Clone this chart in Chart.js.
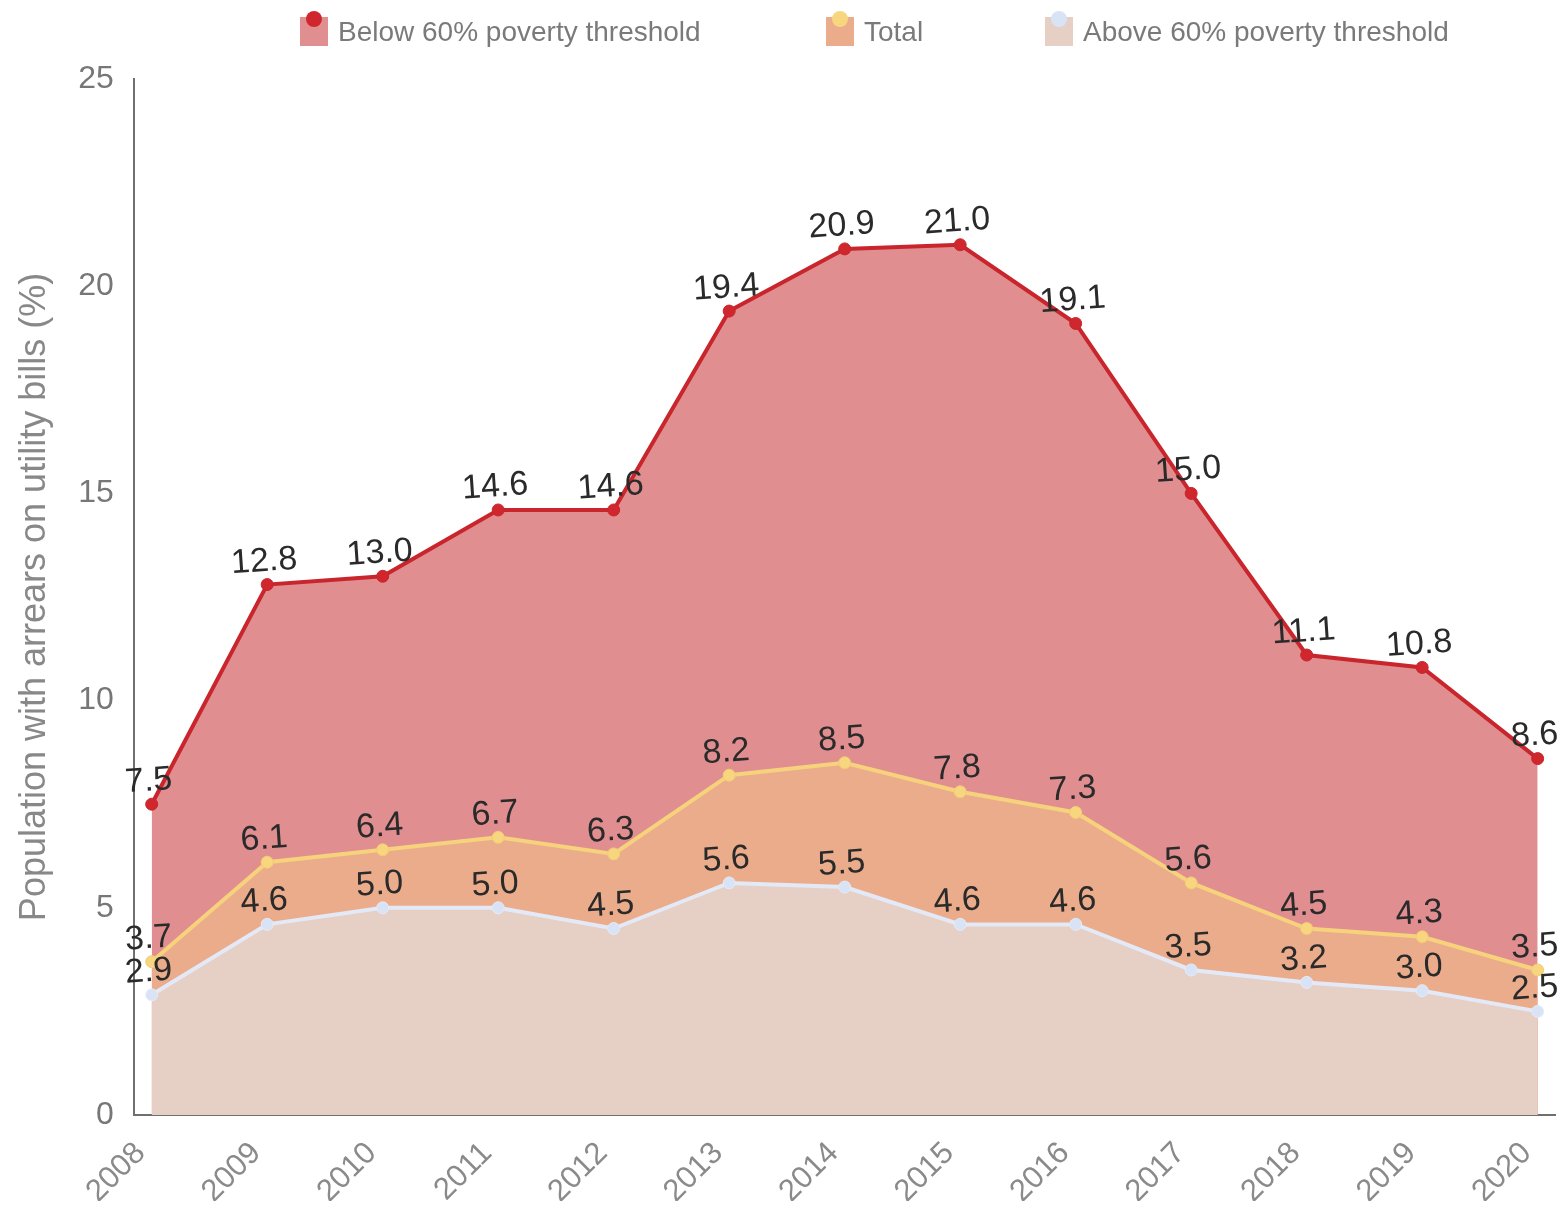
<!DOCTYPE html>
<html>
<head>
<meta charset="utf-8">
<script src="https://cdn.jsdelivr.net/npm/chart.js@4/dist/chart.umd.min.js"></script>
<style>
html,body{margin:0;padding:0;background:#fff;}
#wrap{width:1564px;height:1205px;}
</style>
</head>
<body>
<div id="wrap"><canvas id="c" width="1564" height="1205"></canvas></div>
<script>
const years = [2008, 2009, 2010, 2011, 2012, 2013, 2014, 2015, 2016, 2017, 2018, 2019, 2020];
const belowValues = [7.5, 12.8, 13.0, 14.6, 14.6, 19.4, 20.9, 21.0, 19.1, 15.0, 11.1, 10.8, 8.6];
const totalValues = [3.7, 6.1, 6.4, 6.7, 6.3, 8.2, 8.5, 7.8, 7.3, 5.6, 4.5, 4.3, 3.5];
const aboveValues = [2.9, 4.6, 5.0, 5.0, 4.5, 5.6, 5.5, 4.6, 4.6, 3.5, 3.2, 3.0, 2.5];
const seriesNames = ['Below 60% poverty threshold', 'Total', 'Above 60% poverty threshold'];
const yTicks = [0, 5, 10, 15, 20, 25];
const yTitle = 'Population with arrears on utility bills (%)';

const FONT = '"Liberation Sans", Arial, sans-serif';
const toXY = vals => vals.map((v, i) => ({x: years[i], y: v}));

const styles = [
  {fill: '#e08e90', line: '#c9252c', point: '#d0262e', pointBorder: '#c9252c', order: 2},
  {fill: '#ebac8b', line: '#f6d27c', point: '#f7d67f', pointBorder: '#f2cd74', order: 1},
  {fill: '#e6cfc5', line: '#e4e9f7', point: '#d9e3f6', pointBorder: '#e6ebf8', order: 0}
];
const seriesValues = [belowValues, totalValues, aboveValues];

const datasets = seriesValues.map((vals, i) => ({
  label: seriesNames[i],
  data: toXY(vals),
  backgroundColor: styles[i].fill,
  borderColor: styles[i].line,
  borderWidth: 4,
  pointRadius: 6,
  pointBackgroundColor: styles[i].point,
  pointBorderColor: styles[i].pointBorder,
  pointBorderWidth: 1,
  fill: 'origin',
  tension: 0,
  order: styles[i].order
}));

const labelPlugin = {
  id: 'valueLabels',
  afterDatasetsDraw(chart) {
    const ctx = chart.ctx;
    ctx.save();
    ctx.font = '34px ' + FONT;
    ctx.fillStyle = '#2a2a2a';
    ctx.textAlign = 'center';
    ctx.textBaseline = 'middle';
    chart.data.datasets.forEach((ds, i) => {
      const meta = chart.getDatasetMeta(i);
      meta.data.forEach((pt, j) => {
        ctx.save();
        ctx.translate(pt.x - 3, pt.y - 23);
        ctx.rotate(-4 * Math.PI / 180);
        ctx.fillText(ds.data[j].y.toFixed(1), 0, 0);
        ctx.restore();
      });
    });
    ctx.restore();
  }
};

const legendPlugin = {
  id: 'customLegend',
  afterDraw(chart) {
    const ctx = chart.ctx;
    const xs = [300, 826, 1045];
    ctx.save();
    ctx.font = '28px ' + FONT;
    ctx.textBaseline = 'middle';
    ctx.textAlign = 'left';
    seriesNames.forEach((name, i) => {
      const x = xs[i];
      ctx.fillStyle = styles[i].fill;
      ctx.fillRect(x, 17, 28, 29);
      ctx.beginPath();
      ctx.arc(x + 14, 19, 8, 0, Math.PI * 2);
      ctx.fillStyle = styles[i].point;
      ctx.fill();
      ctx.fillStyle = '#7a7a7a';
      ctx.fillText(name, x + 38, 33);
    });
    ctx.restore();
  }
};

new Chart(document.getElementById('c'), {
  type: 'line',
  data: {datasets},
  options: {
    responsive: false,
    animation: false,
    layout: {padding: {top: 79, right: 9, left: 13, bottom: 4}},
    plugins: {legend: {display: false}, tooltip: {enabled: false}},
    scales: {
      x: {
        type: 'linear',
        min: 2007.845,
        max: 2020.15,
        afterBuildTicks: scale => { scale.ticks = years.map(v => ({value: v})); },
        afterFit: scale => { scale.height = 86; scale.paddingRight = 0; },
        grid: {display: false},
        border: {display: true, color: '#6f6f6f', width: 2},
        ticks: {
          autoSkip: false,
          maxRotation: 45,
          minRotation: 45,
          padding: 12,
          labelOffset: -11,
          color: '#8a8a8a',
          font: {size: 31, family: FONT},
          callback: v => String(v)
        }
      },
      y: {
        min: 0,
        max: 25,
        afterBuildTicks: scale => { scale.ticks = yTicks.map(v => ({value: v})); },
        grid: {display: false},
        border: {display: true, color: '#6f6f6f', width: 2},
        ticks: {
          padding: 12,
          color: '#777',
          font: {size: 32, family: FONT}
        },
        title: {
          display: true,
          text: yTitle,
          color: '#888',
          font: {size: 36, family: FONT},
          padding: {top: 0, bottom: 10}
        }
      }
    }
  },
  plugins: [labelPlugin, legendPlugin]
});
</script>
</body>
</html>
